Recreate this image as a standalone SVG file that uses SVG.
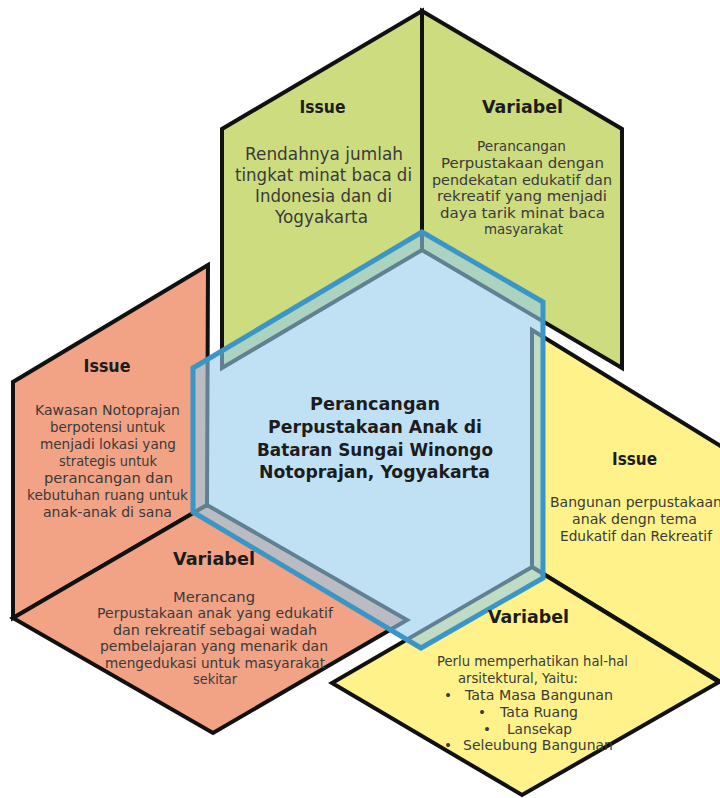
<svg xmlns="http://www.w3.org/2000/svg" width="720" height="798" viewBox="0 0 720 798">
<style>
.edge{stroke:#111;stroke-width:4;stroke-linejoin:miter}
.green{fill:#cedc80}
.salmon{fill:#f2a386}
.yellow{fill:#fff28a}
.t{font-family:"DejaVu Sans","Liberation Sans",sans-serif;fill:#3a3a3a;text-anchor:middle;font-size:13.5px}
.big{font-size:17px}
.h{font-family:"DejaVu Sans","Liberation Sans",sans-serif;font-weight:bold;fill:#1c1c1c;text-anchor:middle;font-size:17px}
.c{font-family:"DejaVu Sans","Liberation Sans",sans-serif;font-weight:bold;fill:#1c1c1c;text-anchor:middle;font-size:18px}
.b{font-family:"DejaVu Sans","Liberation Sans",sans-serif;fill:#3a3a3a;text-anchor:middle;font-size:13.5px}
</style>
<rect width="720" height="798" fill="#ffffff"/>

<g id="green-issue">
<polygon class="green edge" points="422,11 422,250 222,368 222,129"/>
</g>
<g id="green-variabel">
<polygon class="green edge" points="422,11 622,129 622,368 422,250"/>
</g>
<g id="salmon-issue">
<polygon class="salmon edge" points="208,265 13,382 13,618 207,505"/>
</g>
<g id="salmon-variabel">
<polygon class="salmon edge" points="13,618 207,505 407,620 213,733"/>
</g>
<g id="yellow-issue">
<polygon class="yellow edge" points="532,330 724,448 724,684 532,567"/>
</g>
<g id="yellow-variabel">
<polygon class="yellow edge" points="532,567 719,682 522,795 332,683"/>
</g>

<g id="center-hexagon">
<polygon points="422,232 543,302 543,578 421,648 193,512 193,368" fill="rgb(150,205,235)" fill-opacity="0.6" stroke="#3a96c6" stroke-width="5" stroke-linejoin="miter"/>
<text class="c" x="375" y="410" textLength="130" lengthAdjust="spacingAndGlyphs">Perancangan</text>
<text class="c" x="375" y="433" textLength="214" lengthAdjust="spacingAndGlyphs">Perpustakaan Anak di</text>
<text class="c" x="375" y="455.5" textLength="236" lengthAdjust="spacingAndGlyphs">Bataran Sungai Winongo</text>
<text class="c" x="374.5" y="478" textLength="231" lengthAdjust="spacingAndGlyphs">Notoprajan, Yogyakarta</text>
</g>

<g id="green-issue-text">
<text class="h" x="322.5" y="113" textLength="46" lengthAdjust="spacingAndGlyphs">Issue</text>
<text class="t big" x="324" y="160" textLength="158" lengthAdjust="spacingAndGlyphs">Rendahnya jumlah</text>
<text class="t big" x="323.5" y="181" textLength="177" lengthAdjust="spacingAndGlyphs">tingkat minat baca di</text>
<text class="t big" x="323.5" y="202" textLength="137" lengthAdjust="spacingAndGlyphs">Indonesia dan di</text>
<text class="t big" x="321.5" y="223" textLength="93" lengthAdjust="spacingAndGlyphs">Yogyakarta</text>
</g>

<g id="green-variabel-text">
<text class="h" x="522.5" y="113" textLength="81" lengthAdjust="spacingAndGlyphs">Variabel</text>
<text class="t" x="521.5" y="151" textLength="89" lengthAdjust="spacingAndGlyphs">Perancangan</text>
<text class="t" x="522.5" y="168" textLength="163" lengthAdjust="spacingAndGlyphs">Perpustakaan dengan</text>
<text class="t" x="522" y="184.5" textLength="180" lengthAdjust="spacingAndGlyphs">pendekatan edukatif dan</text>
<text class="t" x="522" y="201" textLength="170" lengthAdjust="spacingAndGlyphs">rekreatif yang menjadi</text>
<text class="t" x="522.5" y="217.5" textLength="165" lengthAdjust="spacingAndGlyphs">daya tarik minat baca</text>
<text class="t" x="523.5" y="234" textLength="79" lengthAdjust="spacingAndGlyphs">masyarakat</text>
</g>

<g id="salmon-issue-text">
<text class="h" x="107" y="372" textLength="47" lengthAdjust="spacingAndGlyphs">Issue</text>
<text class="t" x="107.5" y="415" textLength="145" lengthAdjust="spacingAndGlyphs">Kawasan Notoprajan</text>
<text class="t" x="107.5" y="432" textLength="115" lengthAdjust="spacingAndGlyphs">berpotensi untuk</text>
<text class="t" x="108" y="449" textLength="136" lengthAdjust="spacingAndGlyphs">menjadi lokasi yang</text>
<text class="t" x="108" y="466" textLength="98" lengthAdjust="spacingAndGlyphs">strategis untuk</text>
<text class="t" x="108.5" y="483" textLength="129" lengthAdjust="spacingAndGlyphs">perancangan dan</text>
<text class="t" x="107.5" y="500" textLength="161" lengthAdjust="spacingAndGlyphs">kebutuhan ruang untuk</text>
<text class="t" x="107.5" y="517" textLength="129" lengthAdjust="spacingAndGlyphs">anak-anak di sana</text>
</g>

<g id="salmon-variabel-text">
<text class="h" x="214" y="565" textLength="82" lengthAdjust="spacingAndGlyphs">Variabel</text>
<text class="t" x="214" y="602" textLength="82" lengthAdjust="spacingAndGlyphs">Merancang</text>
<text class="t" x="215" y="618" textLength="236" lengthAdjust="spacingAndGlyphs">Perpustakaan anak yang edukatif</text>
<text class="t" x="215" y="634.5" textLength="204" lengthAdjust="spacingAndGlyphs">dan rekreatif sebagai wadah</text>
<text class="t" x="214" y="651" textLength="228" lengthAdjust="spacingAndGlyphs">pembelajaran yang menarik dan</text>
<text class="t" x="215" y="667.5" textLength="220" lengthAdjust="spacingAndGlyphs">mengedukasi untuk masyarakat</text>
<text class="t" x="215" y="684" textLength="44" lengthAdjust="spacingAndGlyphs">sekitar</text>
</g>

<g id="yellow-issue-text">
<text class="h" x="634.5" y="465" textLength="45" lengthAdjust="spacingAndGlyphs">Issue</text>
<text class="t" x="636" y="507" textLength="172" lengthAdjust="spacingAndGlyphs">Bangunan perpustakaan</text>
<text class="t" x="634.5" y="524" textLength="125" lengthAdjust="spacingAndGlyphs">anak dengn tema</text>
<text class="t" x="636" y="541" textLength="152" lengthAdjust="spacingAndGlyphs">Edukatif dan Rekreatif</text>
</g>

<g id="yellow-variabel-text">
<text class="h" x="528.5" y="623" textLength="81" lengthAdjust="spacingAndGlyphs">Variabel</text>
<text class="t" x="532.5" y="666" textLength="191" lengthAdjust="spacingAndGlyphs">Perlu memperhatikan hal-hal</text>
<text class="t" x="518" y="683" textLength="120" lengthAdjust="spacingAndGlyphs">arsitektural, Yaitu:</text>
<text class="b" x="448" y="700">•</text>
<text class="t" x="539" y="700" textLength="148" lengthAdjust="spacingAndGlyphs">Tata Masa Bangunan</text>
<text class="b" x="482" y="717">•</text>
<text class="t" x="539" y="717" textLength="78" lengthAdjust="spacingAndGlyphs">Tata Ruang</text>
<text class="b" x="487" y="733.5">•</text>
<text class="t" x="539.5" y="733.5" textLength="65" lengthAdjust="spacingAndGlyphs">Lansekap</text>
<text class="b" x="448" y="750">•</text>
<text class="t" x="538" y="750" textLength="150" lengthAdjust="spacingAndGlyphs">Seleubung Bangunan</text>
</g>
</svg>
